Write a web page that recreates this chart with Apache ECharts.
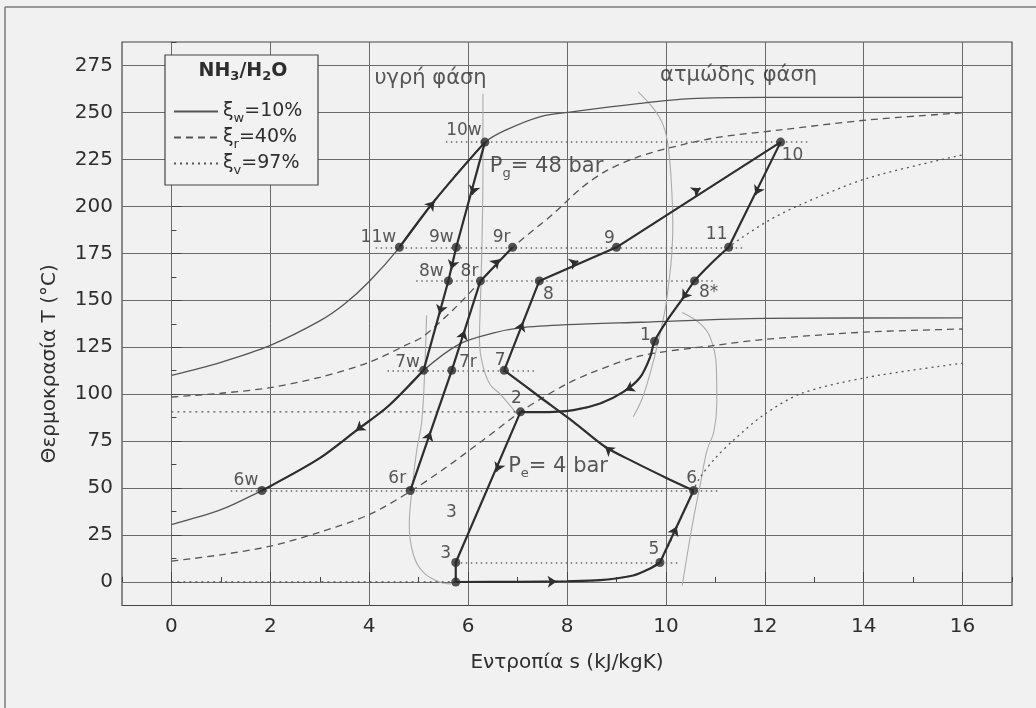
<!DOCTYPE html>
<html>
<head>
<meta charset="utf-8">
<script src="https://cdn.jsdelivr.net/npm/echarts@6/dist/echarts.min.js"></script>
<style>
  html, body { margin: 0; padding: 0; background: #f1f1f1; }
  #main { width: 1036px; height: 708px; }
</style>
</head>
<body>
<div id="main"></div>
<script>
// tick labels
var sTicks = [0, 2, 4, 6, 8, 10, 12, 14, 16];
var tTicks = [0, 25, 50, 75, 100, 125, 150, 175, 200, 225, 250, 275];

// isobars [s, T] (48 bar = upper, 4 bar = lower)
var w48 = [[0, 110], [1, 117], [2, 126], [3, 139], [3.5, 148], [4, 160], [4.61, 178], [5.32, 203], [6.34, 234],
  [6.77, 240.7], [7.45, 247.7], [8.13, 250.4], [9.48, 254.8], [10.5, 257.3], [12, 258], [14, 258], [16, 258]];
var w4 = [[0, 30.6], [1, 38.5], [1.83, 48.7], [2, 51], [3, 66], [3.73, 80.5], [4.4, 94], [5.1, 112.7], [5.83, 126.8],
  [6.5, 132.5], [7.05, 135.3], [8, 137], [9.5, 138.3], [12, 140.4], [16, 140.6]];
var r48 = [[0, 98.5], [1, 100.5], [2, 103.5], [3, 109], [4, 117], [4.81, 127], [5.08, 130.5], [5.7, 145], [6.25, 160],
  [6.9, 178], [7.72, 196], [8.3, 210], [8.8, 219], [9.4, 226], [10.05, 231], [11, 236.5], [12.32, 240.7], [14.08, 246], [16, 249.8]];
var r4 = [[0, 11.1], [1, 14.5], [2, 19.1], [3, 26.5], [4, 35.9], [4.83, 48.2], [5.5, 60], [6.3, 75.5], [7.06, 90.6],
  [7.5, 98], [8, 105.5], [8.5, 111.5], [9.5, 120.5], [11, 126], [12, 129.2], [14, 133], [16, 134.7]];
var v48 = [[0, 90.6], [7.06, 90.6], [7.45, 90.4], [8.13, 91.5], [8.67, 95], [9.14, 101.2], [9.48, 109], [9.68, 119.7],
  [9.77, 128.2], [10.02, 139.1], [10.33, 150.6], [10.58, 160.3], [10.9, 169.2], [11.27, 178.3], [12.05, 192],
  [12.73, 201], [14.08, 215], [16, 227.4]];
var v4 = [[0, 0], [5.75, 0], [7, 0.1], [8, 0.4], [8.67, 1], [9.34, 3.5], [9.7, 7.5], [9.88, 10.3], [10.56, 49.1],
  [10.7, 56], [11, 66], [11.37, 75.6], [11.97, 88.8], [12.73, 100.3], [14.08, 109], [16, 116.5]];

// thin grey boundary curves
var grey1 = [[6.3, 260], [6.3, 220], [6.28, 180], [6.25, 150], [6.23, 128.6], [6.3, 115], [6.45, 105], [6.64, 100.3], [6.98, 89.7]];
var grey2 = [[5.16, 142], [5.12, 111], [5.06, 85], [4.96, 70], [4.88, 52.6], [4.81, 30], [4.9, 14], [5.1, 5], [5.42, 0], [5.65, -1]];
var grey3 = [[9.44, 261], [9.75, 252], [9.95, 243], [10.05, 231], [10.12, 208], [10.14, 190], [10.12, 175], [10.08, 164],
  [9.99, 146], [9.85, 128.5], [9.68, 111], [9.51, 97], [9.34, 88]];
var grey4 = [[10.33, 143.5], [10.7, 137.4], [10.9, 130], [11.02, 115], [11.03, 95], [10.97, 80], [10.83, 70], [10.7, 52.6],
  [10.53, 29.7], [10.33, -2]];

// cycle paths (bold)
var pathW1 = [[4.61, 178.2], [5.32, 203], [6.34, 234.2]];
var pathW2 = [[6.34, 234.2], [5.76, 178.2], [5.6, 160.3], [5.1, 112.7]];
var pathW3 = [[5.1, 112.7], [4.4, 94], [3.73, 80.5], [3, 66], [2, 51], [1.83, 48.7]];
var pathR = [[4.83, 48.7], [5.67, 112.7], [6.25, 160.3], [6.9, 178.2]];
var pathV1 = [[6.73, 112.7], [7.44, 160.3], [9.0, 178.2], [12.32, 234.2], [11.27, 178.2]];
var pathV2 = [[11.27, 178.2], [10.9, 169.2], [10.58, 160.3], [10.33, 150.6], [10.02, 139.1], [9.77, 128.2], [9.68, 119.7],
  [9.48, 109], [9.14, 101.2], [8.67, 95], [8.13, 91.5], [7.45, 90.4], [7.06, 90.6]];
var pathV3 = [[10.56, 48.7], [10.02, 55.3], [9.34, 64.1], [8.77, 72], [8.13, 85.3], [7.45, 98.5], [6.73, 112.7]];
var pathV4 = [[7.06, 90.6], [5.75, 10.4], [5.75, 0]];
var pathV5 = [[5.75, 0], [7, 0.1], [8, 0.4], [8.67, 1], [9.34, 3.5], [9.7, 7.5], [9.88, 10.4]];
var pathV6 = [[9.88, 10.4], [10.56, 48.7]];

// state points
var pointNames = ['10w', '11w', '9w', '9r', '9', '8w', '8r', '8', '1', '7w', '7r', '7', '2', '10', '11', '8*', '6w', '6r', '3', '', '5', '6'];
var pointS = [6.34, 4.61, 5.76, 6.9, 9.0, 5.6, 6.25, 7.44, 9.77, 5.1, 5.67, 6.73, 7.06, 12.32, 11.27, 10.58, 1.83, 4.83, 5.75, 5.75, 9.88, 10.56];
var pointT = [234.2, 178.2, 178.2, 178.2, 178.2, 160.3, 160.3, 160.3, 128.2, 112.7, 112.7, 112.7, 90.6, 234.2, 178.2, 160.3, 48.7, 48.7, 10.4, 0, 10.4, 48.7];

// dotted isotherms through the points
var guideT = [234.2, 178.2, 160.3, 112.7, 48.7, 10.4];
var guideFrom = [5.55, 4.13, 4.95, 4.37, 1.2, 5.75];
var guideTo = [12.86, 11.57, 10.97, 7.38, 11.1, 10.3];

// flow arrows: [s, T, towards s, towards T]
var arrows = [[5.32, 202.7, 6.34, 234], [6.08, 206.2, 5.76, 178], [5.66, 166.5, 5.6, 160.5], [5.42, 142.7, 5.1, 112.7],
  [3.73, 80.5, 3.0, 66], [5.24, 80, 5.67, 112.7], [5.93, 133.9, 6.25, 160.3], [6.64, 171.8, 6.9, 178.2],
  [7.11, 138.3, 7.44, 160.3], [8.23, 170.8, 9.0, 178.2], [10.7, 209.7, 12.32, 234.2], [11.81, 206.2, 11.27, 178.2],
  [10.33, 150.6, 10.02, 139.1], [9.18, 102, 8.67, 95], [8.77, 72, 8.13, 85.3], [6.57, 58.8, 5.75, 10.4],
  [7.79, 0.3, 8.67, 1], [10.22, 29.5, 10.56, 48.7]];

// annotations
var annoParts = [['υγρή φάση'], ['ατμώδης φάση'], ['P', 'g', '= 48 bar'], ['P', 'e', '= 4 bar'], ['3']];
var annoS = [5.24, 11.47, 6.44, 6.81, 5.66];
var annoT = [267.8, 269.4, 221, 61.4, 36.8];

// legend
var legendNames = ['w', 'r', 'v'];
var legendPct = ['10%', '40%', '97%'];
var titleParts = ['NH', '3', '/H', '2', 'O'];

var chart = echarts.init(document.getElementById('main'));

var labelOffset = {
  '10w': [-21, -12], '11w': [-21, -10], '9w': [-15, -10], '9r': [-11, -10], '9': [-7, -9],
  '8w': [-17, -9], '8r': [-11, -9], '8': [9, 14], '1': [-9, -6], '7w': [-16, -8], '7r': [16, -8],
  '7': [-4, -10], '2': [-4, -13], '10': [12, 13], '11': [-12, -13], '8*': [14, 12], '6w': [-16, -10],
  '6r': [-13, -12], '3': [-10, -9], '5': [-6, -13], '6': [-2, -12]
};

var ink = '#2e2e2e';
var curveColor = '#555';
var dashes = { w: 'solid', r: [7, 5], v: [2, 4] };

function isobar(name, data) {
  return {
    type: 'line', name: name, data: data, smooth: 0.3, symbol: 'none', showSymbol: false, silent: true, z: 2,
    itemStyle: { color: curveColor },
    lineStyle: { color: curveColor, width: 1.3, type: dashes[name] }
  };
}
function grey(data) {
  return {
    type: 'line', name: 'grey', data: data, smooth: 0.4, symbol: 'none', silent: true, z: 1,
    lineStyle: { color: '#ababab', width: 1.1 }
  };
}
function bold(data, smooth) {
  return {
    type: 'line', name: 'cycle', data: data, smooth: smooth ? 0.3 : false, symbol: 'none', silent: true, z: 3,
    lineStyle: { color: ink, width: 2.2 }
  };
}

var series = [
  isobar('w', w48), isobar('w', w4), isobar('r', r48), isobar('r', r4), isobar('v', v48), isobar('v', v4),
  grey(grey1), grey(grey2), grey(grey3), grey(grey4),
  {
    type: 'lines', coordinateSystem: 'cartesian2d', silent: true, z: 2,
    data: guideT.map(function (t, i) { return { coords: [[guideFrom[i], t], [guideTo[i], t]] }; }),
    lineStyle: { color: '#6a6a6a', width: 1.5, type: [1.5, 3.5], opacity: 1 }
  },
  bold(pathW1, true), bold(pathW2, false), bold(pathW3, true), bold(pathR, false),
  bold(pathV1, false), bold(pathV2, true), bold(pathV3, true), bold(pathV4, false),
  bold(pathV5, true), bold(pathV6, false),
  {
    type: 'lines', coordinateSystem: 'cartesian2d', silent: true, z: 4,
    symbol: ['none', 'arrow'], symbolSize: 9,
    data: arrows.map(function (a) {
      var k = 0.04;
      return { coords: [[a[0] - k * (a[2] - a[0]), a[1] - k * (a[3] - a[1])], [a[0], a[1]]] };
    }),
    lineStyle: { color: ink, width: 2, opacity: 1 }
  },
  {
    type: 'scatter', name: 'points', silent: true, z: 5, symbolSize: 9,
    itemStyle: { color: '#2b2b2b' },
    data: pointNames.map(function (n, i) {
      var off = labelOffset[n] || [0, 0];
      return {
        value: [pointS[i], pointT[i]],
        label: { show: n !== '', formatter: n, position: 'inside', offset: off, fontSize: 17, color: ink, textBorderWidth: 0 }
      };
    })
  },
  {
    type: 'scatter', name: 'notes', silent: true, z: 5, symbolSize: 0,
    data: annoParts.map(function (p, i) {
      var txt = p.length === 3 ? '{m|' + p[0] + '}{s|' + p[1] + '}{m|' + p[2] + '}' : '{m|' + p[0] + '}';
      return {
        value: [annoS[i], annoT[i]],
        label: {
          show: true, formatter: txt,
          position: p.length === 3 ? 'right' : 'inside', distance: 0,
          rich: {
            m: { fontSize: p[0] === '3' ? 17 : 21, color: ink, lineHeight: 26, verticalAlign: 'middle' },
            s: { fontSize: 13, color: ink, height: 12, verticalAlign: 'bottom' }
          }
        }
      };
    })
  }
];

var option = {
  backgroundColor: '#f1f1f1',
  animation: false,
  textStyle: { fontFamily: 'DejaVu Sans', color: ink },
  grid: { left: 122, right: 24, top: 42, bottom: 102.5, show: true, borderColor: '#444', borderWidth: 1.2 },
  xAxis: [{
    type: 'value', min: -1, max: 17, interval: 1,
    axisLine: { show: false },
    axisTick: { inside: true, length: 5, lineStyle: { color: '#444' } },
    axisLabel: {
      fontSize: 20, color: ink, margin: 11,
      formatter: function (v) { return sTicks.indexOf(v) >= 0 ? String(v) : ''; }
    },
    splitLine: { show: true, showMinLine: false, showMaxLine: false, lineStyle: { color: ['#6a6a6a', 'rgba(0,0,0,0)'], width: 1 } },
    name: 'Εντροπία s (kJ/kgK)', nameLocation: 'middle', nameGap: 47,
    nameTextStyle: { fontSize: 20, color: ink }
  }, {
    type: 'value', min: -1, max: 17, position: 'bottom',
    axisLine: { show: false },
    axisTick: { inside: true, length: 10, customValues: sTicks, lineStyle: { color: '#444' } },
    axisLabel: { show: false }, splitLine: { show: false }
  }],
  yAxis: [{
    type: 'value', min: -12.5, max: 287.5, interval: 12.5,
    axisLine: { show: false },
    axisTick: { inside: true, length: 5, lineStyle: { color: '#444' } },
    axisLabel: {
      fontSize: 20, color: ink, margin: 9,
      formatter: function (v) { return tTicks.indexOf(v) >= 0 ? String(v) : ''; }
    },
    splitLine: { show: true, showMinLine: false, showMaxLine: false, lineStyle: { color: ['#6a6a6a', 'rgba(0,0,0,0)'], width: 1 } },
    name: 'Θερμοκρασία T (°C)', nameLocation: 'middle', nameGap: 62,
    nameTextStyle: { fontSize: 20, color: ink, padding: [0, 80, 0, 0] }
  }, {
    type: 'value', min: -12.5, max: 287.5, position: 'left',
    axisLine: { show: false },
    axisTick: { inside: true, length: 10, customValues: tTicks, lineStyle: { color: '#444' } },
    axisLabel: { show: false }, splitLine: { show: false }
  }],
  legend: {
    data: legendNames, orient: 'vertical', left: 168, top: 97, itemGap: 3,
    itemWidth: 44, itemHeight: 14, selectedMode: false, z: 6,
    itemStyle: { color: 'rgba(0,0,0,0)', borderWidth: 0, opacity: 0 },
    formatter: function (name) {
      var i = legendNames.indexOf(name);
      return '{x|ξ}{s|' + name + '}{x|=' + legendPct[i] + '}';
    },
    textStyle: {
      rich: {
        x: { fontSize: 19, color: ink, lineHeight: 26, verticalAlign: 'middle' },
        s: { fontSize: 13, color: ink, height: 12, verticalAlign: 'bottom' }
      }
    }
  },
  graphic: [
    { type: 'line', silent: true, z: 0, shape: { x1: 5, y1: 7, x2: 1036, y2: 7 }, style: { stroke: '#7a7a7a', lineWidth: 1.5 } },
    { type: 'line', silent: true, z: 0, shape: { x1: 5, y1: 7, x2: 5, y2: 708 }, style: { stroke: '#7a7a7a', lineWidth: 1.5 } },
    { type: 'rect', silent: true, z: 5, shape: { x: 165, y: 55, width: 153, height: 130 }, style: { fill: '#f2f2f2', stroke: '#444', lineWidth: 1.2 } },
    {
      type: 'text', silent: true, z: 7, x: 243, y: 71,
      style: {
        text: '{a|' + titleParts[0] + '}{b|' + titleParts[1] + '}{a|' + titleParts[2] + '}{b|' + titleParts[3] + '}{a|' + titleParts[4] + '}',
        align: 'center', verticalAlign: 'middle',
        rich: {
          a: { fontSize: 19, fontWeight: 'bold', fontFamily: 'DejaVu Sans', fill: ink, lineHeight: 24, verticalAlign: 'middle' },
          b: { fontSize: 13, fontWeight: 'bold', fontFamily: 'DejaVu Sans', fill: ink, height: 12, verticalAlign: 'bottom' }
        }
      }
    }
  ],
  series: series
};

chart.setOption(option);
</script>
</body>
</html>
